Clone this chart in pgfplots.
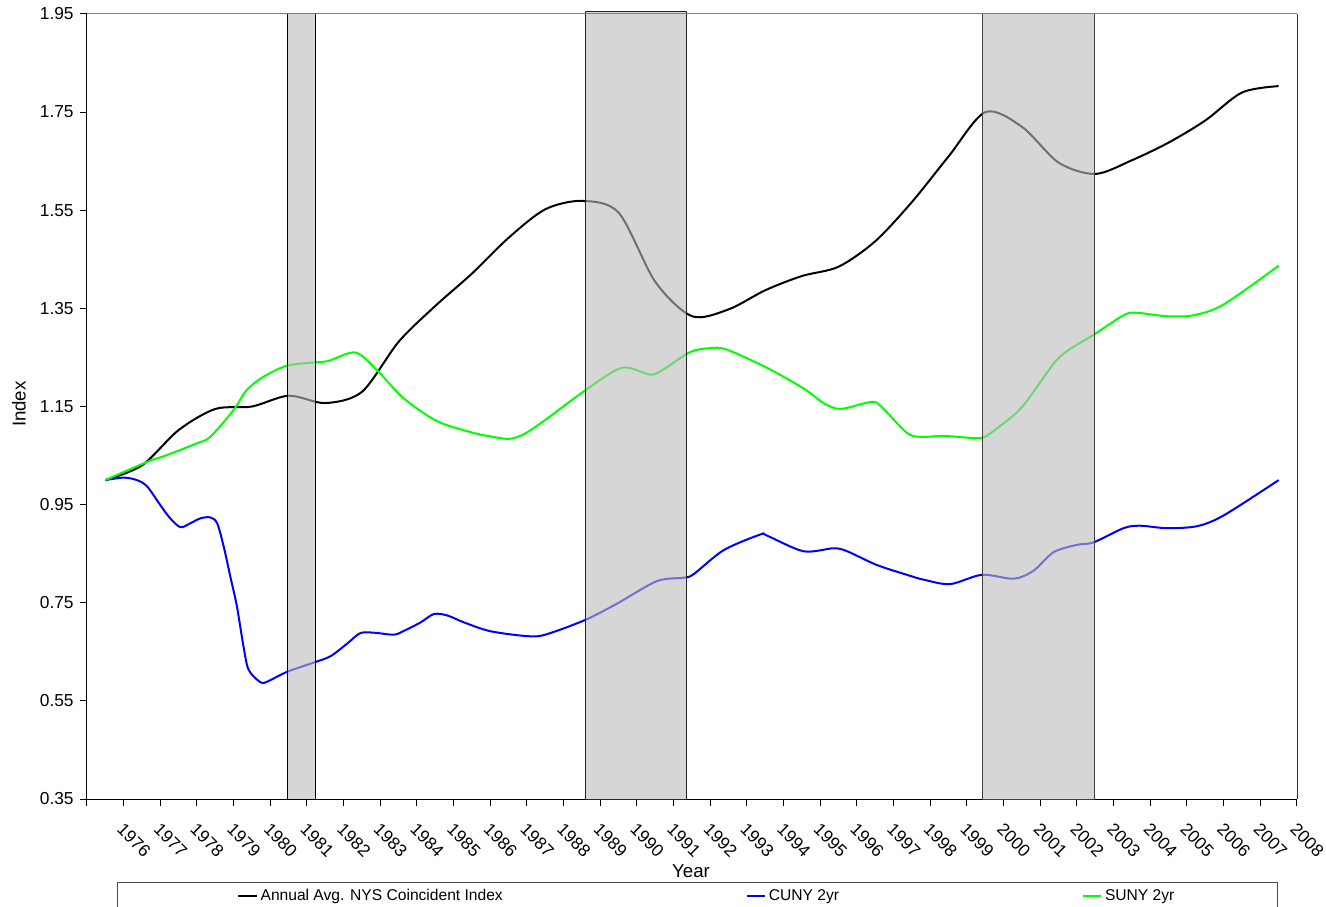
\documentclass[border=0pt]{standalone}
\usepackage{fontspec}
\setmainfont{Liberation Sans}
\usepackage{pgfplots}
\pgfplotsset{compat=1.18}
\definecolor{barfill}{RGB}{187,187,187}
\definecolor{cgreen}{RGB}{0,255,0}
\definecolor{cblue}{RGB}{0,0,255}
\begin{document}
\begin{tikzpicture}
\begin{axis}[
  name=ax,
  scale only axis,
  width=907.5pt, height=588.75pt,
  xmin=1975.5, xmax=2008.5,
  ymin=0.35, ymax=1.95,
  clip=false,
  axis x line*=bottom, axis y line*=left,
  axis line style={black, line width=0.75pt},
  tick align=outside,
  tick style={black, line width=0.75pt},
  major tick length=5pt,
  xtick={1975.5,1976.5,...,2008.5},
  xticklabels={,1976,1977,1978,1979,1980,1981,1982,1983,1984,1985,1986,1987,1988,1989,1990,1991,1992,1993,1994,1995,1996,1997,1998,1999,2000,2001,2002,2003,2004,2005,2006,2007,2008},
  ytick={0.35,0.55,0.75,0.95,1.15,1.35,1.55,1.75,1.95},
  /pgf/number format/assume math mode=true,
  /pgf/number format/1000 sep={},
  yticklabel style={/pgf/number format/.cd, fixed, fixed zerofill, precision=2, /tikz/.cd, font=\fontsize{13}{15}\selectfont, xshift=-1.5pt},
  xticklabel style={font=\fontsize{13}{15}\selectfont, inner sep=0pt, xshift=0.75pt, yshift=-12pt, rotate=-45, anchor=north west},
  xlabel={Year},
  ylabel={Index},
  xlabel style={font=\fontsize{14}{16}\selectfont, at={(axis description cs:0.4992,-0.0924)}, anchor=center},
  ylabel style={font=\fontsize{14}{16}\selectfont, at={(axis description cs:-0.0562,0.503)}, anchor=center},
  legend columns=3,
  legend style={draw=none, fill=none, at={(axis description cs:0.12397,-0.1236)}, anchor=west, inner sep=0pt,
    font=\fontsize{11.7}{14}\selectfont, /tikz/every even column/.append style={column sep=180pt}},
  legend image code/.code={\draw[#1, line width=1.5pt] (0pt,0pt) -- (14pt,0pt);},
]
\addplot[black, line width=1.5pt, smooth] coordinates {
(1976,1.000) (1977,1.030) (1978,1.102) (1979,1.145) (1980,1.150) (1981,1.172)
(1982,1.157) (1983,1.180) (1984,1.282) (1985,1.355) (1986,1.421) (1987,1.494)
(1988,1.552) (1989,1.569) (1990,1.545) (1991,1.404) (1992,1.334) (1993,1.348)
(1994,1.387) (1995,1.416) (1996,1.435) (1997,1.487) (1998,1.567) (1999,1.660)
(2000,1.750) (2001,1.720) (2002,1.647) (2003,1.624) (2004,1.652) (2005,1.688)
(2006,1.733) (2007,1.790) (2008,1.803)};
\addlegendentry{Annual Avg. NYS Coincident Index}
\addplot[cblue, line width=1.5pt, smooth] coordinates {
(1976.0,1.000) (1976.5,1.005) (1976.86,1.000) (1977.14,0.987) (1977.5,0.949)
(1977.77,0.922) (1978.05,0.904) (1978.32,0.912) (1978.59,0.922) (1978.86,0.924)
(1979.05,0.912) (1979.23,0.864) (1979.41,0.803) (1979.59,0.742) (1979.77,0.660)
(1979.91,0.613) (1980.23,0.588) (1980.41,0.589) (1980.95,0.609) (1981.68,0.628)
(1982.14,0.641) (1982.6,0.667) (1982.95,0.688) (1983.32,0.689) (1983.87,0.685)
(1984.15,0.693) (1984.6,0.710) (1984.96,0.727) (1985.33,0.724) (1985.78,0.710)
(1986.5,0.692) (1987.5,0.682) (1988.0,0.685) (1989.09,0.715) (1989.95,0.748)
(1991.04,0.794) (1991.77,0.801) (1992.04,0.808) (1992.86,0.857) (1993.86,0.889)
(1994.04,0.887) (1995.04,0.855) (1995.86,0.861) (1996.23,0.855) (1997.04,0.827)
(1997.9,0.806) (1998.32,0.797) (1999.04,0.788) (1999.91,0.807) (2000.77,0.799)
(2001.31,0.815) (2001.86,0.853) (2002.5,0.868) (2002.95,0.873) (2003.77,0.902)
(2004.22,0.907) (2004.95,0.902) (2005.77,0.906) (2006.5,0.928) (2008.0,1.000)};
\addlegendentry{CUNY 2yr}
\addplot[cgreen, line width=1.5pt, smooth] coordinates {
(1976.0,1.000) (1977.14,1.037) (1977.68,1.051) (1978.5,1.075) (1978.86,1.088)
(1979.5,1.143) (1979.86,1.184) (1980.32,1.211) (1980.95,1.233) (1981.73,1.240)
(1982.09,1.243) (1982.82,1.260) (1983.41,1.224) (1984.13,1.167) (1985.05,1.120)
(1986.05,1.096) (1986.5,1.089) (1987.0,1.084) (1987.4,1.093) (1987.95,1.120)
(1989.09,1.183) (1990.09,1.229) (1990.86,1.215) (1991.23,1.226) (1991.95,1.261)
(1992.5,1.269) (1992.95,1.266) (1994.04,1.229) (1995.04,1.187) (1995.59,1.157)
(1996.05,1.145) (1996.86,1.159) (1997.13,1.152) (1997.85,1.097) (1998.23,1.088)
(1998.86,1.090) (1999.59,1.086) (1999.91,1.086) (2000.13,1.095) (2000.77,1.132)
(2001.13,1.161) (2001.86,1.237) (2002.23,1.263) (2002.95,1.296) (2003.77,1.336)
(2004.13,1.341) (2004.95,1.334) (2005.68,1.336) (2006.5,1.358) (2008.0,1.437)};
\addlegendentry{SUNY 2yr}
\addplot[draw=black, line width=0.75pt, fill=barfill, fill opacity=0.6, forget plot]
  coordinates {(1980.96,0.35) (1980.96,1.95) (1981.73,1.95) (1981.73,0.35)} -- cycle;
\addplot[draw=black!85, line width=0.75pt, fill=barfill, fill opacity=0.6, forget plot]
  coordinates {(1989.09,0.35) (1989.09,1.955) (1991.86,1.955) (1991.86,0.35)} -- cycle;
\addplot[draw=black!75, line width=0.75pt, fill=barfill, fill opacity=0.6, forget plot]
  coordinates {(1999.93,0.35) (1999.93,1.95) (2002.98,1.95) (2002.98,0.35)} -- cycle;
\draw[gray, line width=0.75pt] (axis description cs:0,1) -- (axis description cs:1,1);
\draw[black!80, line width=0.75pt] (axis description cs:1,1) -- (axis description cs:1,0);
\draw[black!70, line width=0.75pt] (axis description cs:0.02479,-0.10573) rectangle (axis description cs:0.98347,-0.17);
\end{axis}
\pgfresetboundingbox
\path ([shift={(-65.25pt,-80.25pt)}]ax.south west) rectangle ([shift={(21.75pt,10.5pt)}]ax.north east);
\end{tikzpicture}
\end{document}
